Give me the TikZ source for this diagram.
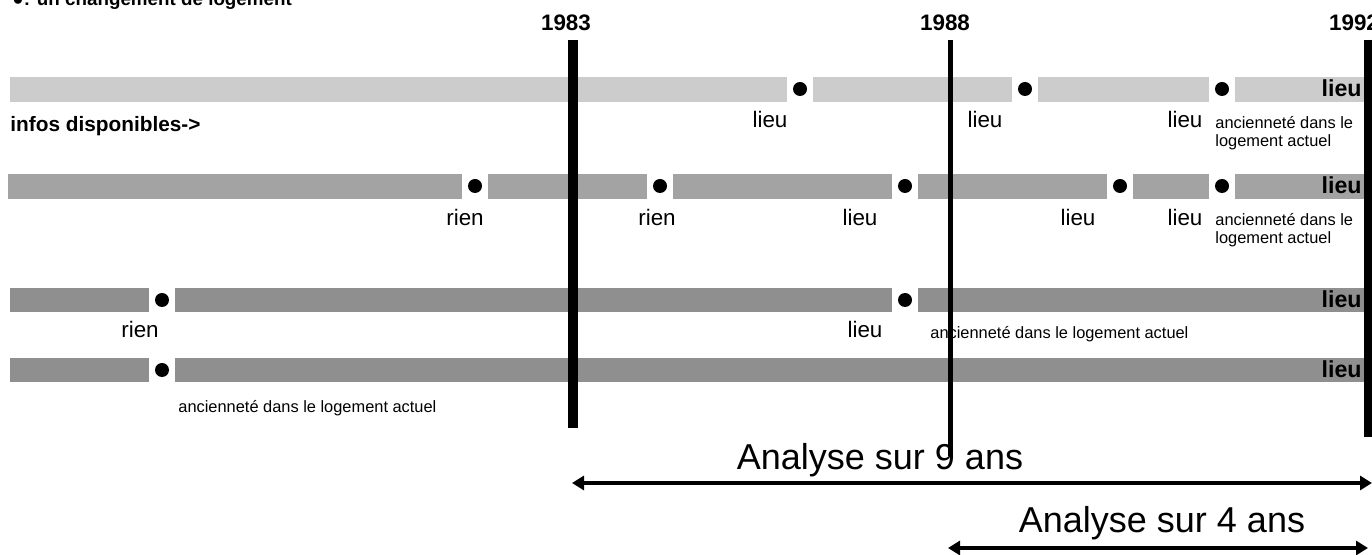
\documentclass[tikz,border=0pt]{standalone}
\usepackage{fontspec}
\setmainfont{Liberation Sans}
\usetikzlibrary{positioning, calc, arrows.meta}

\begin{document}
\begin{tikzpicture}[x=0.5pt, y=-0.5pt,
    bar1/.style={fill=black!20},
    bar2/.style={fill=black!36},
    bar3/.style={fill=black!44},
    move/.style={circle, fill=black, inner sep=0pt, minimum size=7pt},
    info/.style={font=\fontsize{11.2}{13}\selectfont, anchor=base},
    small/.style={font=\fontsize{8.2}{9}\selectfont, anchor=base west, align=left, inner sep=0pt},
    year/.style={font=\bfseries\fontsize{11.2}{13}\selectfont, anchor=base},
    endlieu/.style={font=\bfseries\fontsize{11.6}{13}\selectfont, anchor=base east, inner sep=0pt},
    period/.style={line width=2pt, {Triangle[length=6pt,width=7pt]}-{Triangle[length=6pt,width=7pt]}}
  ]
  \useasboundingbox (0,0) rectangle (1372,555);

  % legend, cut at the top
  \node[anchor=base west, inner sep=0pt, font=\bfseries\fontsize{9.4}{11}\selectfont] (legend) at (12,6) {●: un changement de logement};

  % rows
  \foreach \a/\b in {10/787, 813/1012, 1038/1209, 1235/1365}
    \fill[bar1] (\a,77) rectangle (\b,102);
  \foreach \a/\b in {8/462, 488/647, 673/892, 918/1107, 1133/1209, 1235/1365}
    \fill[bar2] (\a,174) rectangle (\b,199);
  \foreach \a/\b in {10/149, 175/892, 918/1365}
    \fill[bar3] (\a,288) rectangle (\b,312);
  \foreach \a/\b in {10/149, 175/1365}
    \fill[bar3] (\a,358) rectangle (\b,382);

  % moves
  \node[move] (m1a) at (800,89) {};
  \node[move] (m1b) at (1025,89) {};
  \node[move] (m1c) at (1222,89) {};
  \node[move] (m2a) at (475,186) {};
  \node[move] (m2b) at (660,186) {};
  \node[move] (m2c) at (905,186) {};
  \node[move] (m2d) at (1120,186) {};
  \node[move] (m2e) at (1222,186) {};
  \node[move] (m3a) at (162,300) {};
  \node[move] (m3b) at (905,300) {};
  \node[move] (m4a) at (162,370) {};

  \node[endlieu] (e1) at (1362,97) {lieu};
  \node[endlieu] (e2) at (1362,194) {lieu};
  \node[endlieu] (e3) at (1362,308) {lieu};
  \node[endlieu] (e4) at (1362,378) {lieu};

  % what is known
  \node[anchor=base west, inner sep=0pt, font=\bfseries\fontsize{10.4}{12}\selectfont] (infos) at (10,132) {infos disponibles->};
  \node[info] (l1a) at (770,128) {lieu};
  \node[info] (l1b) at (985,128) {lieu};
  \node[info] (l1c) at (1185,128) {lieu};
  \node[small] (a1) at (1215,147) {ancienneté dans le\\logement actuel};

  \node[info] (l2a) at (465,226) {rien};
  \node[info] (l2b) at (657,226) {rien};
  \node[info] (l2c) at (860,226) {lieu};
  \node[info] (l2d) at (1078,226) {lieu};
  \node[info] (l2e) at (1185,226) {lieu};
  \node[small] (a2) at (1215,244) {ancienneté dans le\\logement actuel};

  \node[info] (l3a) at (140,338) {rien};
  \node[info] (l3b) at (865,338) {lieu};
  \node[small] (a3) at (930,339) {ancienneté dans le logement actuel};

  \node[small] (a4) at (178,413) {ancienneté dans le logement actuel};

  % years
  \node[year] (y83) at (566,31) {1983};
  \node[year] (y88) at (945,31) {1988};
  \node[year] (y92) at (1354,31) {1992};

  \coordinate (t83) at (573,40);
  \coordinate (b83) at (573,428);
  \coordinate (t88) at (950,40);
  \coordinate (b88) at (950,456);
  \coordinate (t92) at (1368,40);
  \coordinate (b92) at (1368,437);
  \draw[line width=5pt] (t83) -- (b83);
  \draw[line width=2.5pt] (t88) -- (b88);
  \draw[line width=4pt] (t92) -- (b92);

  % periods
  \node[anchor=base, font=\fontsize{18}{20}\selectfont] (p9) at (880,470) {Analyse sur 9 ans};
  \node[anchor=base, font=\fontsize{18}{20}\selectfont] (p4) at (1162,533) {Analyse sur 4 ans};
  \coordinate (p9l) at (572,483);
  \coordinate (p9r) at (1372,483);
  \coordinate (p4l) at (948,548);
  \coordinate (p4r) at (1368,548);
  \draw[period] (p9l) -- (p9r);
  \draw[period] (p4l) -- (p4r);
\end{tikzpicture}
\end{document}
